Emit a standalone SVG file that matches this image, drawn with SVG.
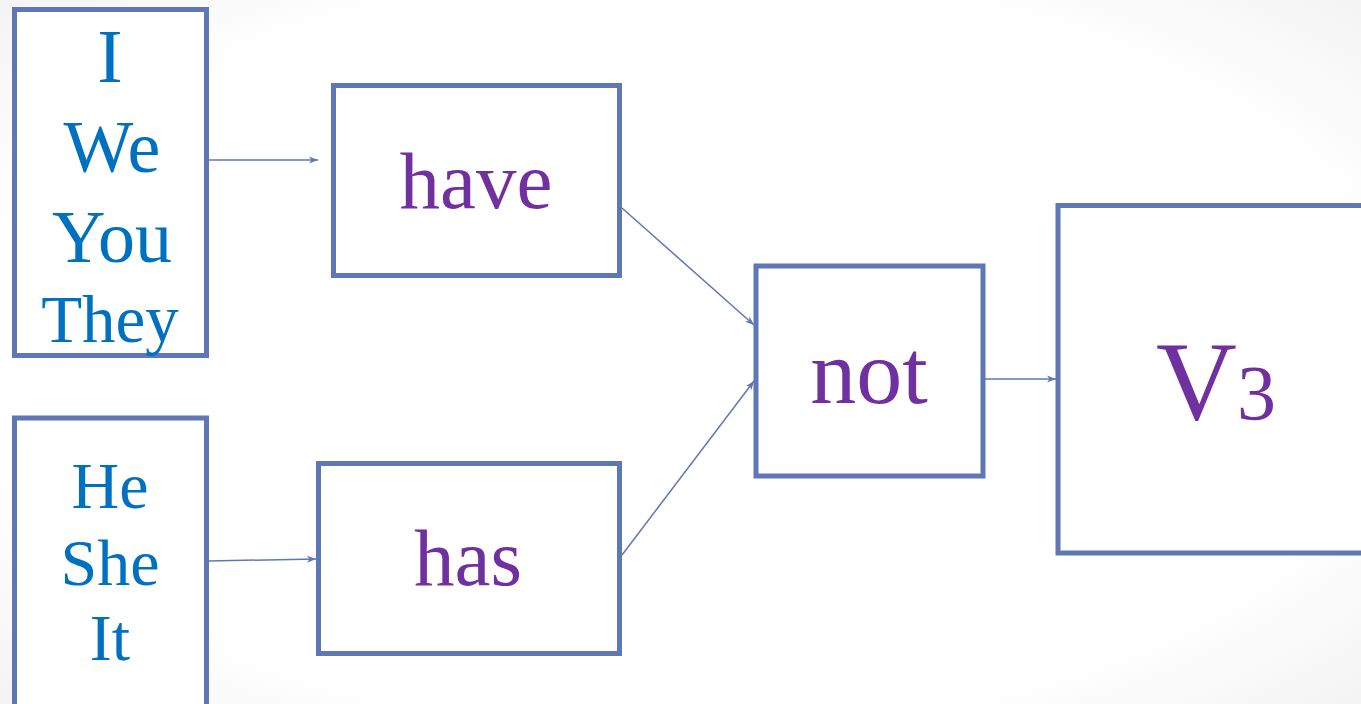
<svg xmlns="http://www.w3.org/2000/svg" width="1361" height="704" viewBox="0 0 1361 704">
<style>
.box{fill:#FFFFFF;stroke:#5F77B5;stroke-width:5}
.conn{stroke:#5F77B5;stroke-width:1.5;fill:none;marker-end:url(#arr)}
.pro{font-family:"Liberation Serif","DejaVu Serif",serif;fill:#0070C0;text-anchor:middle}
.verb{font-family:"Liberation Serif","DejaVu Serif",serif;fill:#7030A0;text-anchor:middle}
</style>
<defs>
<radialGradient id="bg" cx="0.5" cy="0.5" r="0.75">
<stop offset="0.7" stop-color="#FFFFFF"/>
<stop offset="1" stop-color="#F1F1F1"/>
</radialGradient>
<marker id="arr" markerWidth="10" markerHeight="8" refX="9" refY="4" orient="auto" markerUnits="userSpaceOnUse">
<path d="M0,0.5 L9,4 L0,7.5 L2.5,4 Z" fill="#5F77B5"/>
</marker>
</defs>
<rect x="0" y="0" width="1361" height="704" fill="url(#bg)"/>
<g id="connectors">
<line class="conn" x1="208" y1="160" x2="318" y2="160"/>
<line class="conn" x1="208" y1="561" x2="316" y2="559"/>
<line class="conn" x1="622" y1="208" x2="754" y2="325"/>
<line class="conn" x1="622" y1="555" x2="754" y2="381"/>
<line class="conn" x1="985" y1="379" x2="1056" y2="379"/>
</g>
<g id="node-plural">
<rect class="box" x="14.5" y="9.5" width="192" height="346"/>
<text class="pro" x="110" y="82" font-size="76">I</text>
<text class="pro" x="112" y="172" font-size="74">We</text>
<text class="pro" x="112" y="262" font-size="74">You</text>
<text class="pro" x="110" y="342" font-size="67">They</text>
</g>
<g id="node-singular">
<rect class="box" x="14.5" y="418" width="192" height="295"/>
<text class="pro" x="110" y="508" font-size="66">He</text>
<text class="pro" x="110" y="585" font-size="66">She</text>
<text class="pro" x="110" y="660" font-size="66">It</text>
</g>
<g id="node-have">
<rect class="box" x="333.5" y="85.5" width="286" height="190"/>
<text class="verb" x="476" y="208" font-size="81">have</text>
</g>
<g id="node-has">
<rect class="box" x="318.5" y="463.5" width="301" height="190"/>
<text class="verb" x="468" y="585" font-size="81">has</text>
</g>
<g id="node-not">
<rect class="box" x="756" y="266" width="227" height="210"/>
<text class="verb" x="869" y="403" font-size="92">not</text>
</g>
<g id="node-v3">
<rect class="box" x="1058" y="205.5" width="320" height="347.5"/>
<text class="verb" x="1216" y="419" font-size="112">V<tspan font-size="78">3</tspan></text>
</g>
</svg>
